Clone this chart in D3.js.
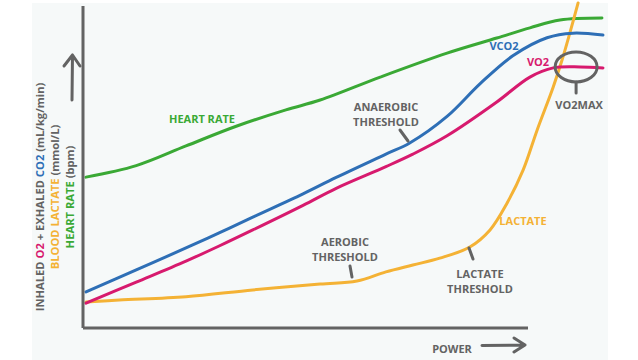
<!DOCTYPE html>
<html>
<head>
<meta charset="utf-8">
<script src="https://cdn.jsdelivr.net/npm/d3@7"></script>
<style>
  body { margin: 0; background: #fff; }
  svg text { font-family: "Open Sans", "DejaVu Sans", sans-serif; font-weight: 700; }
</style>
</head>
<body>
<div id="chart"></div>
<script>
// power (0-100 % of max) and relative level (0-100)
const heartPower  = [0, 9.7, 19.3, 29, 38.6, 45.2, 56.8, 69.7, 79.3, 85.7, 91.5, 99.6];
const heartRate   = [46, 49.5, 55.5, 61.5, 66.5, 69.5, 76.5, 83.8, 88.4, 91.5, 93.9, 94.5];

const vco2Power   = [0, 9.7, 19.3, 25.7, 32.2, 41.9, 48.3, 57.9, 62.5, 69.7, 76.1, 82.4, 89, 94, 99.8];
const vco2Values  = [11, 17.7, 24.4, 29, 33.8, 40.9, 45.9, 53, 56.4, 64.5, 74.5, 83, 88.5, 89.9, 89.3];

const vo2Power    = [0, 9.7, 19.3, 25.7, 32.2, 41.9, 48.3, 57.9, 63.1, 69.7, 79.3, 85.7, 90.2, 95.4, 99.8];
const vo2Values   = [7.6, 14, 20.4, 25, 29.9, 37.4, 42.6, 49.2, 53, 58.6, 68.9, 76.5, 79.3, 79.6, 79.3];

const lactatePower  = [0, 6.4, 19.3, 32.2, 45.2, 52.3, 57.9, 63.1, 68.3, 74.1, 78, 81.3, 84.4, 87.1, 90.2, 91.9, 93.4, 95];
const lactateValues = [7.9, 8.5, 9.5, 11.6, 13.4, 14.3, 17.1, 19.2, 21.3, 24.7, 29.9, 38.1, 48.2, 60.4, 73.5, 81.7, 89.9, 99.1];

const width = 638, height = 360;

const svg = d3.select("#chart")
  .append("svg")
    .attr("width", width)
    .attr("height", height);

// pale paper behind the drawing
svg.append("rect")
  .attr("x", 32).attr("y", 3)
  .attr("width", 576).attr("height", 357)
  .attr("fill", "#f6f9f9");

const x = d3.scaleLinear().domain([0, 100]).range([86, 604]);
const y = d3.scaleLinear().domain([0, 100]).range([328, 0]);

const grey = "#636363";
const colors = { hr: "#3aa935", vco2: "#2e6fb6", vo2: "#d71a6e", lac: "#f4b235" };

const line = d3.line()
  .x(d => x(d[0]))
  .y(d => y(d[1]))
  .curve(d3.curveCatmullRom.alpha(0.5));

function drawSeries(power, values, color) {
  svg.append("path")
    .datum(d3.zip(power, values))
    .attr("fill", "none")
    .attr("stroke", color)
    .attr("stroke-width", 3)
    .attr("stroke-linecap", "round")
    .attr("stroke-linejoin", "round")
    .attr("d", line);
}

drawSeries(heartPower, heartRate, colors.hr);
drawSeries(lactatePower, lactateValues, colors.lac);
drawSeries(vco2Power, vco2Values, colors.vco2);
drawSeries(vo2Power, vo2Values, colors.vo2);

// axes, drawn with the scales but without ticks
svg.append("g")
  .attr("transform", `translate(0, ${y(0)})`)
  .call(d3.axisBottom(x).tickValues([]).tickSizeOuter(0))
  .call(g => g.select(".domain").attr("stroke", grey).attr("stroke-width", 3)
    .attr("d", `M${x(0) - 3},0H528`));
svg.append("g")
  .attr("transform", `translate(${x(0) - 3}, 0)`)
  .call(d3.axisLeft(y).tickValues([]).tickSizeOuter(0))
  .call(g => g.select(".domain").attr("stroke", grey).attr("stroke-width", 3)
    .attr("d", `M0,${y(0)}V6`));

// arrows
const arrow = svg.append("g")
  .attr("fill", "none").attr("stroke", grey)
  .attr("stroke-width", 3).attr("stroke-linecap", "round").attr("stroke-linejoin", "round");
arrow.append("path").attr("d", "M72,100L72.5,55M64,66L72.5,55L80,66");
arrow.append("path").attr("d", "M482,345.5L525,345M514,338L525,345L514,352");

svg.append("text")
  .attr("x", 452).attr("y", 353)
  .attr("text-anchor", "middle")
  .attr("font-size", 11).attr("fill", grey)
  .text("POWER");

// rotated y-axis title, three coloured lines
const yTitle = [
  { xPos: 44, parts: [["INHALED ", grey], ["O2", colors.vo2], [" + EXHALED ", grey], ["CO2", colors.vco2], [" (mL/kg/min)", grey]] },
  { xPos: 59, parts: [["BLOOD LACTATE", colors.lac], [" (mmol/L)", grey]] },
  { xPos: 74, parts: [["HEART RATE", colors.hr], [" (bpm)", grey]] }
];
yTitle.forEach(row => {
  const t = svg.append("text")
    .attr("transform", `translate(${row.xPos}, 197) rotate(-90)`)
    .attr("text-anchor", "middle")
    .attr("font-size", 11.2);
  row.parts.forEach(p => t.append("tspan").attr("fill", p[1]).text(p[0]));
});

// series labels
function label(tx, ty, txt, color, weight) {
  svg.append("text")
    .attr("x", tx).attr("y", ty)
    .attr("text-anchor", "middle")
    .attr("font-size", 11)
    .attr("font-weight", weight || 700)
    .attr("fill", color)
    .text(txt);
}
label(202, 123, "HEART RATE", colors.hr);
label(504, 50, "VCO2", colors.vco2, 400);
label(538, 66, "VO2", colors.vo2, 400);
label(523, 225, "LACTATE", colors.lac);

// threshold notes with small leader ticks
const notes = [
  { lines: ["ANAEROBIC", "THRESHOLD"], tx: 386, ty: 111, lead: [[400, 130], [408, 141]] },
  { lines: ["AEROBIC", "THRESHOLD"], tx: 345, ty: 246, lead: [[350, 266], [352, 277]] },
  { lines: ["LACTATE", "THRESHOLD"], tx: 480, ty: 278, lead: [[469, 248], [473, 259]] }
];
notes.forEach(n => {
  n.lines.forEach((s, i) => label(n.tx, n.ty + i * 15, s, grey));
  svg.append("line")
    .attr("x1", n.lead[0][0]).attr("y1", n.lead[0][1])
    .attr("x2", n.lead[1][0]).attr("y2", n.lead[1][1])
    .attr("stroke", grey).attr("stroke-width", 3).attr("stroke-linecap", "round");
});

// VO2max ring on the plateau
const vmx = x(95), vmy = y(79.6);
svg.append("ellipse")
  .attr("cx", vmx - 2).attr("cy", vmy)
  .attr("rx", 21).attr("ry", 15)
  .attr("fill", "none").attr("stroke", grey).attr("stroke-width", 3);
svg.append("line")
  .attr("x1", vmx - 2).attr("y1", vmy + 15)
  .attr("x2", vmx - 2).attr("y2", vmy + 26)
  .attr("stroke", grey).attr("stroke-width", 3).attr("stroke-linecap", "round");
label(vmx + 1, vmy + 42, "VO2MAX", grey);
</script>
</body>
</html>
